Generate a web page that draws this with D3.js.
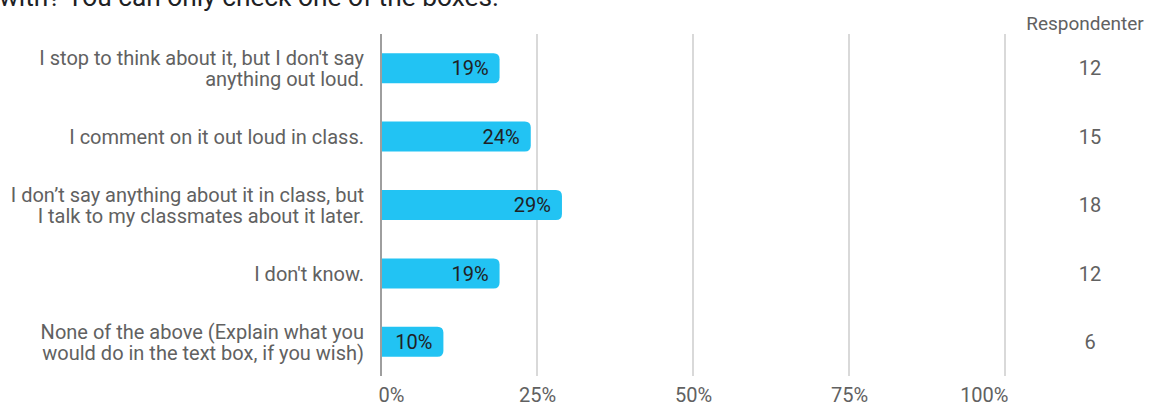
<!DOCTYPE html>
<html>
<head>
<meta charset="utf-8">
<script src="https://cdn.jsdelivr.net/npm/d3@7"></script>
<style>
  html, body { margin: 0; padding: 0; background: #fff; }
  svg { display: block; font-family: Roboto, "Noto Sans", sans-serif; }
</style>
</head>
<body>
<svg id="chart" width="1153" height="406"></svg>
<script>
// Answer options (each entry is the wrapped label, one string per line)
const categories = [
  ["I stop to think about it, but I don't say", "anything out loud."],
  ["I comment on it out loud in class."],
  ["I don’t say anything about it in class, but", "I talk to my classmates about it later."],
  ["I don't know."],
  ["None of the above (Explain what you", "would do in the text box, if you wish)"]
];
// Share of respondents per option, in percent
const percents = [19, 24, 29, 19, 10];
// Number of respondents per option
const counts = [12, 15, 18, 12, 6];
// Axis ticks
const tickValues = [0, 25, 50, 75, 100];
const tickLabels = ["0%", "25%", "50%", "75%", "100%"];
const countHeader = "Respondenter";
const titleTail = "with? You can only check one of the boxes.";

const svg = d3.select("#chart");

const x = d3.scaleLinear().domain([0, 100]).range([381, 1005]);
const y = d3.scaleBand().domain(d3.range(categories.length)).range([34, 376]);
const barH = 30;
const r = 6;
const fs = 20;

// Question title (continues from above, only its last line shows)
svg.append("text")
  .attr("x", -1).attr("y", 6)
  .attr("font-size", 26.3).attr("fill", "#202124")
  .text(titleTail);

// Vertical gridlines
svg.append("g").selectAll("line")
  .data(tickValues.filter(d => d > 0))
  .join("line")
  .attr("x1", d => x(d)).attr("x2", d => x(d))
  .attr("y1", 34).attr("y2", 376)
  .attr("stroke", "#cccccc").attr("stroke-width", 1.5);

// Bars with rounded right end
function barPath(x0, x1, yc) {
  const t = yc - barH / 2, b = yc + barH / 2;
  const rr = Math.min(r, (x1 - x0) / 2);
  return `M${x0},${t}H${x1 - rr}Q${x1},${t} ${x1},${t + rr}V${b - rr}Q${x1},${b} ${x1 - rr},${b}H${x0}Z`;
}
const rows = svg.append("g").selectAll("g")
  .data(percents)
  .join("g");
rows.append("path")
  .attr("d", (d, i) => barPath(x(0), x(d), y(i) + y.bandwidth() / 2))
  .attr("fill", "#22c3f3");
rows.append("text")
  .attr("x", d => x(d) - 11)
  .attr("y", (d, i) => y(i) + y.bandwidth() / 2)
  .attr("dy", "0.36em")
  .attr("text-anchor", "end")
  .attr("font-size", fs).attr("fill", "#202124")
  .text(d => d + "%");

// Baseline axis
svg.append("line")
  .attr("x1", x(0)).attr("x2", x(0))
  .attr("y1", 34).attr("y2", 376)
  .attr("stroke", "#9e9e9e").attr("stroke-width", 2);

// Category labels
const lineH = 21;
const labels = svg.append("g").selectAll("text")
  .data(categories)
  .join("text")
  .attr("text-anchor", "end")
  .attr("font-size", fs).attr("fill", "#616161")
  .attr("transform", (d, i) => `translate(364,${y(i) + y.bandwidth() / 2})`);
labels.selectAll("tspan")
  .data(d => d.map((s, k) => ({ s, k, n: d.length })))
  .join("tspan")
  .attr("x", 0)
  .attr("y", d => (d.k - (d.n - 1) / 2) * lineH)
  .attr("dy", "0.36em")
  .text(d => d.s);

// Percentage axis labels (outer labels kept inside the plot width)
const xAxis = d3.axisBottom(x).tickValues(tickValues)
  .tickFormat((d, i) => tickLabels[i]).tickSize(0).tickPadding(0);
const ax = svg.append("g").attr("transform", "translate(0,402)").call(xAxis);
ax.select(".domain").remove();
ax.selectAll("text")
  .attr("font-family", "Roboto, sans-serif")
  .attr("font-size", fs).attr("fill", "#616161")
  .attr("dy", 0)
  .attr("text-anchor", d => d === 0 ? "start" : d === 100 ? "end" : "middle")
  .attr("dx", d => d === 0 ? -3 : d === 100 ? 3 : 0);

// Respondent counts column
svg.append("text")
  .attr("x", 1085).attr("y", 30)
  .attr("text-anchor", "middle")
  .attr("font-size", 19).attr("fill", "#616161")
  .text(countHeader);
svg.append("g").selectAll("text")
  .data(counts)
  .join("text")
  .attr("x", 1090)
  .attr("y", (d, i) => y(i) + y.bandwidth() / 2)
  .attr("dy", "0.36em")
  .attr("text-anchor", "middle")
  .attr("font-size", fs).attr("fill", "#616161")
  .text(d => d);
</script>
</body>
</html>
